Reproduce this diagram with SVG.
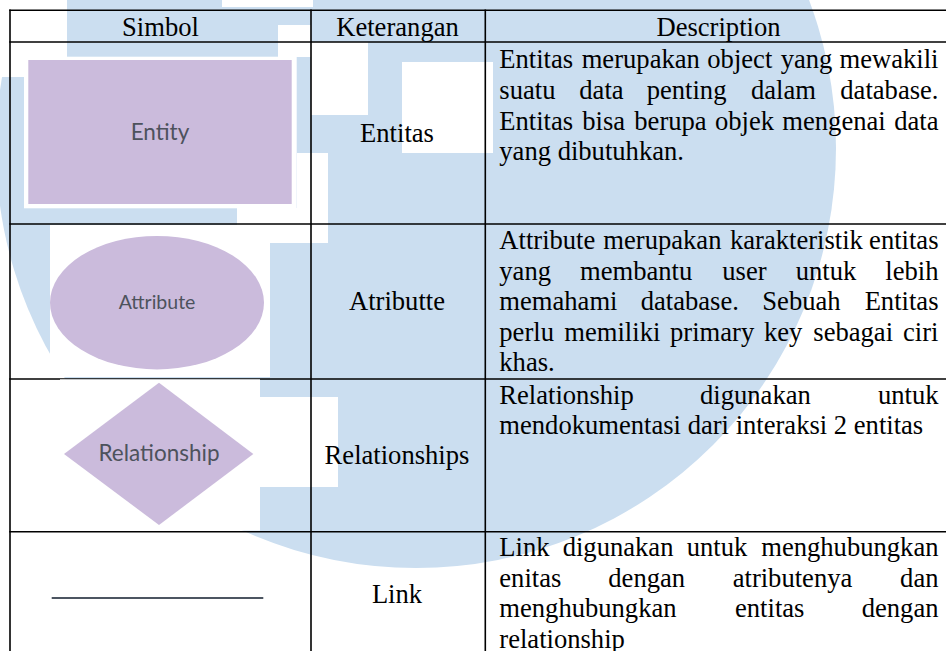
<svg xmlns="http://www.w3.org/2000/svg" width="946" height="651" viewBox="0 0 946 651">
<style>
.t{font-family:"Liberation Serif","Times New Roman",serif;font-size:26.6px;fill:#000}
.c{text-anchor:middle}
.r{text-anchor:end}
.grid line{stroke:#000;stroke-width:1.6}
.wm{fill:#cbdef0}
.cut{fill:#fff}
.bg{fill:#fff}
.sym{fill:#cbbbdc}
.lbl{font-family:Lato,"Open Sans",sans-serif;fill:#4d525c;text-anchor:middle}
</style>
<rect width="946" height="651" fill="#fff"/>

<!-- faint logo watermark behind the table -->
<g id="watermark">
  <circle class="wm" cx="416" cy="148" r="420"/>
  <path class="cut" d="M0 0h67v77H0z M222 0h91v7h-91z M278 25h33v32h-33z M311 42h57v73h-57z M402 62h91v91h-91z M297 153h31v90h-31z M237 208h91v35h-91z M260 397h78v90h-78z"/>
</g>

<!-- symbol: entity -->
<g id="entity">
  <rect class="bg" x="24" y="56.7" width="272.7" height="151.6"/>
  <rect class="sym" x="28.3" y="60" width="263.4" height="144"/>
  <text class="lbl" x="160" y="139.5" font-size="22.5">Entity</text>
</g>

<!-- symbol: attribute -->
<g id="attribute">
  <rect class="bg" x="50" y="225" width="220" height="152"/>
  <ellipse class="sym" cx="157" cy="302.7" rx="107" ry="66.7"/>
  <text class="lbl" x="157" y="308.5" font-size="19.5">Attribute</text>
</g>

<!-- table rules -->
<g id="grid" class="grid">
  <line x1="9.2" y1="10.2" x2="946" y2="10.2"/>
  <line x1="9.2" y1="42" x2="946" y2="42"/>
  <line x1="9.2" y1="224" x2="946" y2="224"/>
  <line x1="9.2" y1="379" x2="946" y2="379"/>
  <line x1="9.2" y1="531.7" x2="946" y2="531.7"/>
  <line x1="10" y1="9.4" x2="10" y2="651"/>
  <line x1="311" y1="9.4" x2="311" y2="651"/>
  <line x1="485.3" y1="9.4" x2="485.3" y2="651"/>
</g>

<!-- symbol: relationship -->
<g id="relationship">
  <rect class="bg" x="60" y="379.3" width="200" height="151.3"/>
  <polygon class="sym" points="159,382.7 253.3,454 159,525 64,454"/>
  <text class="lbl" x="159" y="461" font-size="22.5">Relationship</text>
</g>

<!-- symbol: link -->
<g id="link">
  <line x1="51.7" y1="598" x2="263.3" y2="598" stroke="#4c5561" stroke-width="2.2"/>
</g>

<!-- header row -->
<g id="header">
  <text class="t c" x="160.5" y="35.5">Simbol</text>
  <text class="t c" x="397.5" y="35.5">Keterangan</text>
  <text class="t c" x="718.5" y="35.5">Description</text>
</g>

<!-- name column -->
<g id="names">
  <text class="t c" x="397" y="141.7">Entitas</text>
  <text class="t c" x="397" y="310">Atributte</text>
  <text class="t c" x="397" y="464.3">Relationships</text>
  <text class="t c" x="397" y="603.3">Link</text>
</g>

<!-- description column, justified word by word -->
<g id="desc-entitas">
  <text class="t" y="68.3"><tspan x="499.3">Entitas</tspan><tspan x="581.7">merupakan</tspan><tspan x="707.3">object</tspan><tspan x="780.7">yang</tspan></text>
  <text class="t r" x="938.5" y="68.3">mewakili</text>
  <text class="t" y="98.9"><tspan x="499.3">suatu</tspan><tspan x="579.3">data</tspan><tspan x="646.7">penting</tspan><tspan x="751">dalam</tspan></text>
  <text class="t r" x="938.5" y="98.9">database.</text>
  <text class="t" y="129.5"><tspan x="499.3">Entitas</tspan><tspan x="582.3">bisa</tspan><tspan x="634.3">berupa</tspan><tspan x="715">objek</tspan><tspan x="782.3">mengenai</tspan></text>
  <text class="t r" x="938.5" y="129.5">data</text>
  <text class="t" x="499.3" y="160.1">yang dibutuhkan.</text>
</g>

<g id="desc-attribute">
  <text class="t" y="249"><tspan x="499.3">Attribute</tspan><tspan x="603.3">merupakan</tspan><tspan x="730">karakteristik</tspan></text>
  <text class="t r" x="938.5" y="249">entitas</text>
  <text class="t" y="279.6"><tspan x="499.3">yang</tspan><tspan x="580">membantu</tspan><tspan x="722.3">user</tspan><tspan x="795.7">untuk</tspan></text>
  <text class="t r" x="938.5" y="279.6">lebih</text>
  <text class="t" y="310.2"><tspan x="499.3">memahami</tspan><tspan x="640.7">database.</tspan><tspan x="762.3">Sebuah</tspan></text>
  <text class="t r" x="938.5" y="310.2">Entitas</text>
  <text class="t" y="340.8"><tspan x="499.3">perlu</tspan><tspan x="564.3">memiliki</tspan><tspan x="670">primary</tspan><tspan x="764">key</tspan><tspan x="813.3">sebagai</tspan></text>
  <text class="t r" x="938.5" y="340.8">ciri</text>
  <text class="t" x="499.3" y="371.4">khas.</text>
</g>

<g id="desc-relationship">
  <text class="t" y="403.5"><tspan x="499.3">Relationship</tspan><tspan x="700">digunakan</tspan></text>
  <text class="t r" x="938.5" y="403.5">untuk</text>
  <text class="t" x="499.3" y="434.1">mendokumentasi dari interaksi 2 entitas</text>
</g>

<g id="desc-link">
  <text class="t" y="556"><tspan x="499.3">Link</tspan><tspan x="562.7">digunakan</tspan><tspan x="686.7">untuk</tspan></text>
  <text class="t r" x="938.5" y="556">menghubungkan</text>
  <text class="t" y="586.6"><tspan x="499.3">enitas</tspan><tspan x="608.3">dengan</tspan><tspan x="732.7">atributenya</tspan></text>
  <text class="t r" x="938.5" y="586.6">dan</text>
  <text class="t" y="617.2"><tspan x="499.3">menghubungkan</tspan><tspan x="735">entitas</tspan></text>
  <text class="t r" x="938.5" y="617.2">dengan</text>
  <text class="t" x="499.3" y="647.8">relationship</text>
</g>
</svg>
